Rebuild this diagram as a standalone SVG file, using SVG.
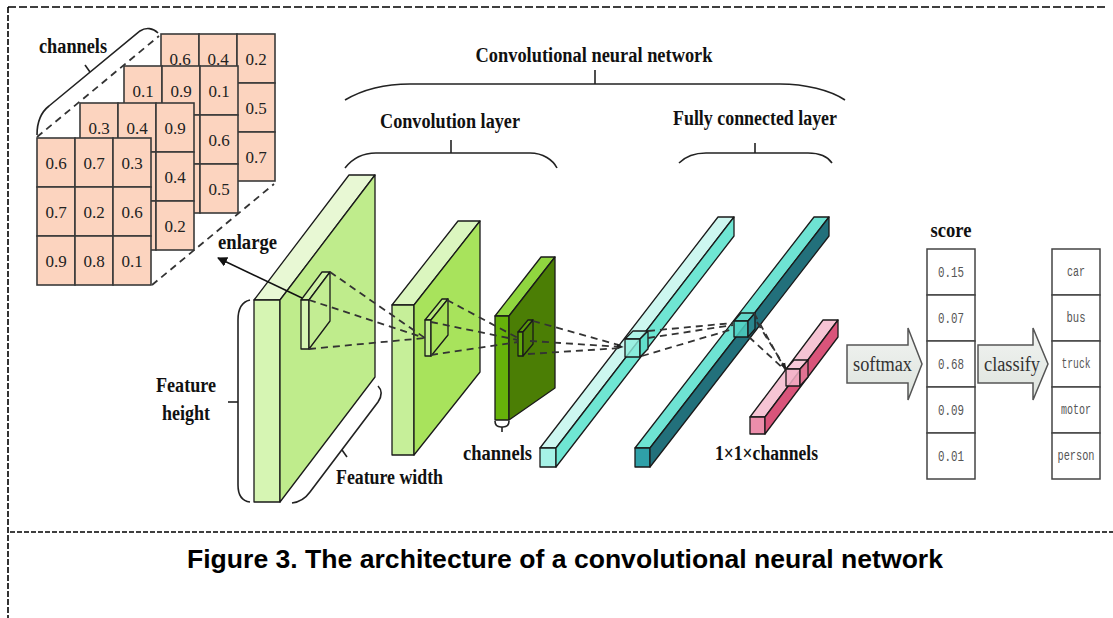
<svg xmlns="http://www.w3.org/2000/svg" xmlns:xlink="http://www.w3.org/1999/xlink" width="1113" height="618" viewBox="0 0 1113 618">
  <style>
    .frame { fill: none; stroke: #000; stroke-width: 1.6; }
    .cell { fill: #fcd4bf; stroke: #3a3a3a; stroke-width: 1.6; }
    .num { font-family: "Liberation Serif", "Times New Roman", serif; font-size: 17px; fill: #222; text-anchor: middle; }
    .lbl { font-family: "Liberation Serif", "Times New Roman", serif; font-size: 20px; font-weight: bold; fill: #111; }
    .mid { text-anchor: middle; }
    .brace { fill: none; stroke: #222; stroke-width: 1.6; }
    .edge { stroke: #1a1a1a; stroke-width: 1.3; stroke-linejoin: round; }
    .dash { fill: none; stroke: #333; stroke-width: 1.8; stroke-dasharray: 7 5; }
    .box { fill: #fff; stroke: #444; stroke-width: 1.5; }
    .mono { font-family: "Liberation Mono", "Courier New", monospace; font-size: 14px; fill: #555; text-anchor: middle; }
    .big-arrow { fill: url(#arrowFill); stroke: #555; stroke-width: 1.5; }
    .arrow-txt { font-family: "Liberation Serif", "Times New Roman", serif; font-size: 20px; fill: #333; }
    .caption { font-family: "Liberation Sans", Arial, sans-serif; font-size: 25px; font-weight: bold; fill: #000; text-anchor: middle; }
  </style>
  <defs>
    <linearGradient id="arrowFill" x1="0" y1="0" x2="0" y2="1">
      <stop offset="0" stop-color="#f2f4f2"/>
      <stop offset="1" stop-color="#dde3dd"/>
    </linearGradient>
    <g id="grid">
      <rect class="cell" x="0" y="0" width="38" height="49"/>
      <rect class="cell" x="38" y="0" width="38" height="49"/>
      <rect class="cell" x="76" y="0" width="38" height="49"/>
      <rect class="cell" x="0" y="49" width="38" height="49"/>
      <rect class="cell" x="38" y="49" width="38" height="49"/>
      <rect class="cell" x="76" y="49" width="38" height="49"/>
      <rect class="cell" x="0" y="98" width="38" height="49"/>
      <rect class="cell" x="38" y="98" width="38" height="49"/>
      <rect class="cell" x="76" y="98" width="38" height="49"/>
    </g>
    <marker id="head" viewBox="0 0 10 10" refX="9" refY="5" markerWidth="10" markerHeight="10" markerUnits="userSpaceOnUse" orient="auto">
      <path d="M0,0 L10,5 L0,10 Z" fill="#111"/>
    </marker>
    <marker id="tip" viewBox="0 0 10 10" refX="9" refY="5" markerWidth="7" markerHeight="7" markerUnits="userSpaceOnUse" orient="auto">
      <path d="M0,1 L10,5 L0,9 Z" fill="#222"/>
    </marker>
  </defs>

  <rect x="0" y="0" width="1113" height="618" fill="#fff"/>

  <!-- page frame -->
  <g id="frame">
    <line class="frame" x1="8" y1="7" x2="1108" y2="7" stroke-dasharray="8 3"/>
    <line class="frame" x1="8" y1="7" x2="8" y2="618" stroke-dasharray="6 2"/>
    <line class="frame" x1="10" y1="532" x2="1113" y2="532" stroke-dasharray="5 2"/>
  </g>

  <!-- stacked input channels -->
  <g id="input-channels">
    <use xlink:href="#grid" x="161" y="34"/>
    <text class="num" x="180" y="64.5">0.6</text>
    <text class="num" x="218" y="64.5">0.4</text>
    <text class="num" x="256" y="64.5">0.2</text>
    <text class="num" x="256" y="113.5">0.5</text>
    <text class="num" x="256" y="162.5">0.7</text>

    <use xlink:href="#grid" x="124" y="66"/>
    <text class="num" x="143" y="96.5">0.1</text>
    <text class="num" x="181" y="96.5">0.9</text>
    <text class="num" x="219" y="96.5">0.1</text>
    <text class="num" x="219" y="145.5">0.6</text>
    <text class="num" x="219" y="194.5">0.5</text>

    <use xlink:href="#grid" x="80" y="103"/>
    <text class="num" x="99" y="133.5">0.3</text>
    <text class="num" x="137" y="133.5">0.4</text>
    <text class="num" x="175" y="133.5">0.9</text>
    <text class="num" x="175" y="182.5">0.4</text>
    <text class="num" x="175" y="231.5">0.2</text>

    <use xlink:href="#grid" x="37" y="138"/>
    <text class="num" x="56" y="168.5">0.6</text>
    <text class="num" x="94" y="168.5">0.7</text>
    <text class="num" x="132" y="168.5">0.3</text>
    <text class="num" x="56" y="217.5">0.7</text>
    <text class="num" x="94" y="217.5">0.2</text>
    <text class="num" x="132" y="217.5">0.6</text>
    <text class="num" x="56" y="266.5">0.9</text>
    <text class="num" x="94" y="266.5">0.8</text>
    <text class="num" x="132" y="266.5">0.1</text>

    <line class="dash" x1="37" y1="137" x2="159" y2="36" stroke-dasharray="6 4"/>
    <line class="dash" x1="152" y1="285" x2="274" y2="184" stroke-dasharray="6 4"/>
    <path class="brace" d="M37,135 C37,122 40,113 49,106 L140,31 C146,27 153,28 158,33"/>
    <line class="brace" x1="90" y1="72" x2="85" y2="65"/>
    <text class="lbl" x="39" y="53" textLength="68" lengthAdjust="spacingAndGlyphs">channels</text>
  </g>

  <!-- group braces and titles -->
  <g id="titles">
    <text class="lbl mid" x="594" y="62" textLength="237" lengthAdjust="spacingAndGlyphs">Convolutional neural network</text>
    <path class="brace" d="M345,100 C362,90 385,84 410,84 L780,84 C805,84 830,90 845,100"/>
    <line class="brace" x1="595" y1="70" x2="595" y2="84"/>

    <text class="lbl mid" x="450" y="128" textLength="140" lengthAdjust="spacingAndGlyphs">Convolution layer</text>
    <path class="brace" d="M345,168 C352,159 362,153 376,153 L530,153 C543,153 553,160 557,168"/>
    <line class="brace" x1="451" y1="140" x2="451" y2="153"/>

    <text class="lbl mid" x="755" y="125" textLength="164" lengthAdjust="spacingAndGlyphs">Fully connected layer</text>
    <path class="brace" d="M679,163 C686,156 695,153 706,153 L808,153 C819,153 828,157 832,163"/>
    <line class="brace" x1="755" y1="143" x2="755" y2="153"/>
  </g>

  <!-- convolution block 1 -->
  <g id="conv1">
    <polygon class="edge" fill="#e8f8d4" points="254,300 349,175 375,175 280,300"/>
    <rect class="edge" fill="#d6f5b3" x="254" y="300" width="26" height="202"/>
    <polygon class="edge" fill="#bfec8c" points="280,300 375,175 375,377 280,502"/>
    <!-- sliding window -->
    <polygon class="edge" fill="#cff2a6" points="301,300 322,272 330,272 309,300"/>
    <rect class="edge" fill="#d6f5b3" x="301" y="300" width="8" height="49"/>
    <polygon class="edge" fill="#c3ed93" points="309,300 330,272 330,321 309,349"/>
  </g>

  <!-- feature size braces -->
  <g id="feature-braces">
    <path class="brace" d="M250,300 C241,302 238,310 238,320 L238,485 C238,495 242,501 250,502"/>
    <line class="brace" x1="228" y1="402" x2="238" y2="402"/>
    <text class="lbl mid" x="186" y="392" textLength="60" lengthAdjust="spacingAndGlyphs">Feature</text>
    <text class="lbl mid" x="186" y="420" textLength="48" lengthAdjust="spacingAndGlyphs">height</text>

    <path class="brace" d="M378,386 C382,390 382,396 378,402 L310,492 C305,499 300,502 292,503"/>
    <line class="brace" x1="342" y1="450" x2="347" y2="457"/>
    <text class="lbl" x="336" y="484" textLength="107" lengthAdjust="spacingAndGlyphs">Feature width</text>
  </g>

  <!-- enlarge pointer -->
  <g id="enlarge">
    <line x1="302" y1="298" x2="218" y2="258" stroke="#111" stroke-width="1.5" marker-end="url(#head)"/>
    <text class="lbl" x="218" y="249" textLength="59" lengthAdjust="spacingAndGlyphs">enlarge</text>
  </g>

  <!-- convolution block 2 -->
  <g id="conv2">
    <polygon class="edge" fill="#dbf6bf" points="392,305 458,221 480,221 414,305"/>
    <rect class="edge" fill="#c6ef99" x="392" y="305" width="22" height="150"/>
    <polygon class="edge" fill="#a8e35c" points="414,305 480,221 480,372 414,455"/>
    <polygon class="edge" fill="#b8ea7a" points="425,320 442,299 448,299 431,320"/>
    <rect class="edge" fill="#c0ed8c" x="425" y="320" width="6" height="36"/>
    <polygon class="edge" fill="#a6e158" points="431,320 448,299 448,335 431,356"/>
  </g>

  <!-- convolution block 3 -->
  <g id="conv3">
    <polygon class="edge" fill="#90d63f" points="495,316 541,257 555,257 509,316"/>
    <rect class="edge" fill="#66b20a" x="495" y="316" width="14" height="104"/>
    <polygon class="edge" fill="#4b7e05" points="509,316 555,257 555,388 509,420"/>
    <polygon class="edge" fill="#5a9a0a" points="518,332 528,320 533,320 523,332"/>
    <rect class="edge" fill="#5fa60a" x="518" y="332" width="5" height="24"/>
    <polygon class="edge" fill="#4b7e05" points="523,332 533,320 533,344 523,356"/>
    <path class="brace" d="M495,421 Q495,427 501,427 L503,427 Q509,427 509,421" stroke-width="1.2"/>
    <line class="brace" x1="502" y1="427" x2="502" y2="432" stroke-width="1.2"/>
    <text class="lbl" x="463" y="460" textLength="69" lengthAdjust="spacingAndGlyphs">channels</text>
  </g>

  <!-- fully connected layer 1 -->
  <g id="fc1">
    <polygon class="edge" fill="#cdf7f0" points="540,448 718,217 734,217 556,448"/>
    <rect class="edge" fill="#a6f2e6" x="540" y="448" width="16" height="19"/>
    <polygon class="edge" fill="#6fe6d3" points="556,448 734,217 734,236 556,467"/>
    <polygon class="edge" fill="#a8f1e6" fill-opacity="0.8" points="625,339 633,331 648,331 640,339"/>
    <rect class="edge" fill="#8eeedd" fill-opacity="0.8" x="625" y="339" width="15" height="18"/>
    <polygon class="edge" fill="#5fdcc9" fill-opacity="0.8" points="640,339 648,331 648,349 640,357"/>
  </g>

  <!-- fully connected layer 2 -->
  <g id="fc2">
    <polygon class="edge" fill="#6ee3d3" points="635,448 814,217 829,217 650,448"/>
    <rect class="edge" fill="#2fa0a8" x="635" y="448" width="15" height="19"/>
    <polygon class="edge" fill="#22707b" points="650,448 829,217 829,236 650,467"/>
    <polygon class="edge" fill="#5fd6c8" fill-opacity="0.85" points="734,321 741,313 755,313 748,321"/>
    <rect class="edge" fill="#4fcfc2" fill-opacity="0.85" x="734" y="321" width="14" height="16"/>
    <polygon class="edge" fill="#2b8a92" fill-opacity="0.85" points="748,321 755,313 755,329 748,337"/>
  </g>

  <!-- output vector 1x1xchannels -->
  <g id="fc-out">
    <polygon class="edge" fill="#f6c4d4" points="750,417 823,320 838,320 765,417"/>
    <rect class="edge" fill="#ec8eab" x="750" y="417" width="15" height="17"/>
    <polygon class="edge" fill="#d9547a" points="765,417 838,320 838,337 765,434"/>
    <polygon class="edge" fill="#f7cbd9" fill-opacity="0.85" points="786,369 794,360 808,360 800,369"/>
    <rect class="edge" fill="#f3b3c8" fill-opacity="0.85" x="786" y="369" width="14" height="17"/>
    <polygon class="edge" fill="#e07896" fill-opacity="0.85" points="800,369 808,360 808,377 800,386"/>
    <text class="lbl" x="715" y="460" textLength="103" lengthAdjust="spacingAndGlyphs">1×1×channels</text>
  </g>

  <!-- softmax arrow -->
  <g id="softmax">
    <polygon class="big-arrow" points="847,345 908,345 908,328 922,364 908,400 908,383 847,383"/>
    <text class="arrow-txt" x="853" y="371" textLength="59" lengthAdjust="spacingAndGlyphs">softmax</text>
  </g>

  <!-- class scores -->
  <g id="score">
    <text class="lbl mid" x="951" y="237" textLength="41" lengthAdjust="spacingAndGlyphs">score</text>
    <rect class="box" x="927" y="249" width="48" height="46"/>
    <rect class="box" x="927" y="295" width="48" height="46"/>
    <rect class="box" x="927" y="341" width="48" height="46"/>
    <rect class="box" x="927" y="387" width="48" height="46"/>
    <rect class="box" x="927" y="433" width="48" height="46"/>
    <text class="mono" x="951" y="277" textLength="26" lengthAdjust="spacingAndGlyphs">0.15</text>
    <text class="mono" x="951" y="323" textLength="26" lengthAdjust="spacingAndGlyphs">0.07</text>
    <text class="mono" x="951" y="369" textLength="26" lengthAdjust="spacingAndGlyphs">0.68</text>
    <text class="mono" x="951" y="415" textLength="26" lengthAdjust="spacingAndGlyphs">0.09</text>
    <text class="mono" x="951" y="461" textLength="26" lengthAdjust="spacingAndGlyphs">0.01</text>
  </g>

  <!-- classify arrow -->
  <g id="classify">
    <polygon class="big-arrow" points="978,345 1033,345 1033,328 1048,364 1033,400 1033,383 978,383"/>
    <text class="arrow-txt" x="984" y="371" textLength="56" lengthAdjust="spacingAndGlyphs">classify</text>
  </g>

  <!-- class names -->
  <g id="classes">
    <rect class="box" x="1052" y="249" width="48" height="46"/>
    <rect class="box" x="1052" y="295" width="48" height="46"/>
    <rect class="box" x="1052" y="341" width="48" height="46"/>
    <rect class="box" x="1052" y="387" width="48" height="46"/>
    <rect class="box" x="1052" y="433" width="48" height="46"/>
    <text class="mono" x="1076" y="276" font-size="13" textLength="18" lengthAdjust="spacingAndGlyphs">car</text>
    <text class="mono" x="1076" y="322" font-size="13" textLength="19" lengthAdjust="spacingAndGlyphs">bus</text>
    <text class="mono" x="1076" y="368" font-size="13" textLength="29" lengthAdjust="spacingAndGlyphs">truck</text>
    <text class="mono" x="1076" y="414" font-size="13" textLength="30" lengthAdjust="spacingAndGlyphs">motor</text>
    <text class="mono" x="1076" y="460" font-size="13" textLength="37" lengthAdjust="spacingAndGlyphs">person</text>
  </g>

  <!-- receptive field projections between layers -->
  <g id="connectors">
    <path class="dash" d="M330,272 L425,338"/>
    <path class="dash" d="M309,300 L425,338"/>
    <path class="dash" d="M309,349 L425,338"/>

    <path class="dash" d="M447,300 L518,338"/>
    <path class="dash" d="M431,322 L518,340"/>
    <path class="dash" d="M431,355 L518,342"/>

    <path class="dash" d="M533,321 L622,346"/>
    <path class="dash" d="M530,341 L623,347" marker-end="url(#tip)"/>
    <path class="dash" d="M528,354 L622,348"/>

    <path class="dash" d="M648,331 L733,323"/>
    <path class="dash" d="M648,338 L733,325"/>
    <path class="dash" d="M642,356 L733,329"/>

    <path class="dash" d="M754,313 L785,369"/>
    <path class="dash" d="M757,322 L786,369" marker-end="url(#tip)"/>
    <path class="dash" d="M749,337 L785,370"/>
  </g>

  <text class="caption" x="565" y="568" textLength="756" lengthAdjust="spacingAndGlyphs">Figure 3. The architecture of a convolutional neural network</text>
</svg>
